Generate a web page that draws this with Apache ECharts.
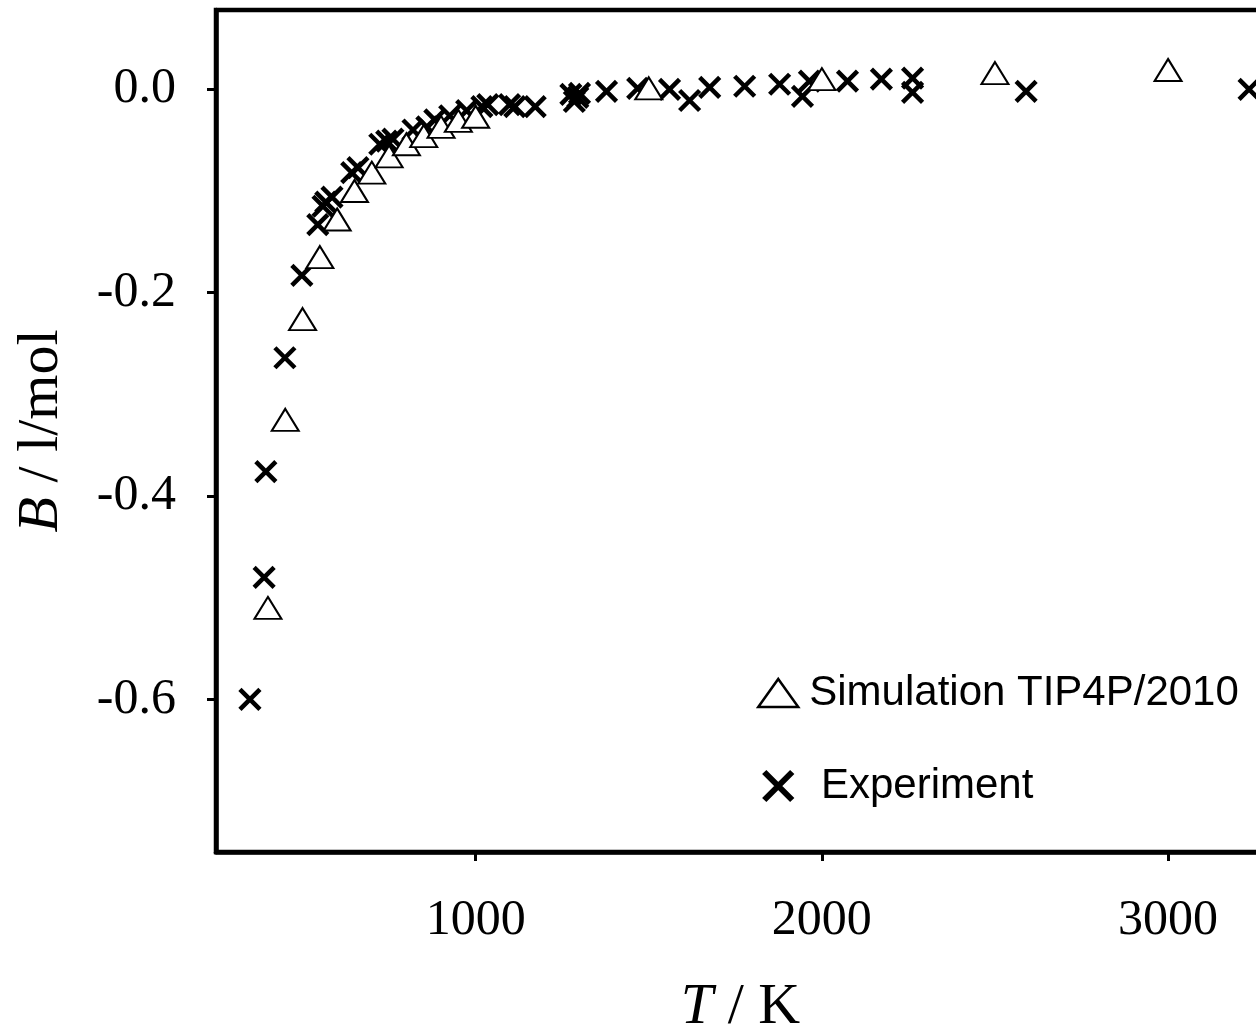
<!DOCTYPE html>
<html>
<head>
<meta charset="utf-8">
<title>Second virial coefficient of water</title>
<script src="https://cdn.jsdelivr.net/npm/echarts@6/dist/echarts.min.js"></script>
<style>
  html, body { margin: 0; padding: 0; background: #fff; }
  #chart { width: 1256px; height: 1029px; }
</style>
</head>
<body>
<div id="chart"></div>
<script>
// Second virial coefficient B (l/mol) versus temperature T (K)

// Simulation, TIP4P/2010 model
const simT = [400, 450, 500, 550, 600, 650, 700, 750, 800, 850, 900, 950, 1000, 1500, 2000, 2500, 3000];
const simB = [-0.510, -0.325, -0.226, -0.165, -0.128, -0.100, -0.082, -0.066, -0.054, -0.046, -0.037, -0.031, -0.027, 0.001, 0.010, 0.016, 0.019];

// Experimental data
const expT = [348, 389, 394, 449, 498, 544, 559, 567, 585, 642, 660, 723, 743, 761, 819, 859, 882, 925, 974,
  1018, 1035, 1098, 1113, 1172, 1275, 1285, 1295, 1300, 1378, 1468, 1560, 1618, 1676, 1777, 1878, 1944, 1964,
  2074, 2172, 2262, 2262, 2590, 3234];
const expB = [-0.600, -0.480, -0.376, -0.264, -0.183, -0.133, -0.115, -0.111, -0.106, -0.082, -0.077, -0.054, -0.051, -0.049, -0.040, -0.037, -0.030, -0.026, -0.021,
  -0.017, -0.015, -0.015, -0.017, -0.017, -0.005, -0.012, -0.008, -0.004, -0.002, 0.001, 0.000, -0.011, 0.002, 0.003, 0.005, -0.007, 0.008,
  0.008, 0.010, 0.011, -0.003, -0.002, 0.000];

// Axis ticks
const xTicks = [1000, 2000, 3000];
const yTicks = [-0.6, -0.4, -0.2, 0.0];

const serif = '"Liberation Serif", "Times New Roman", serif';
const sans = '"Liberation Sans", Arial, sans-serif';

const pairs = (xs, ys) => xs.map((x, i) => [x, ys[i]]);

const chart = echarts.init(document.getElementById('chart'), null, { renderer: 'canvas' });

chart.setOption({
  backgroundColor: '#ffffff',
  animation: false,
  grid: {
    left: 216,
    top: 10,
    width: 1049,
    height: 842,
    outerBoundsMode: 'none',
    show: true,
    borderColor: '#000',
    borderWidth: 4.5,
    backgroundColor: 'transparent'
  },
  xAxis: {
    type: 'value',
    min: 250,
    max: 3280,
    name: '{i|T} / K',
    nameLocation: 'middle',
    nameGap: 127,
    nameTextStyle: {
      fontFamily: serif, fontSize: 58, color: '#000',
      rich: { i: { fontFamily: serif, fontSize: 58, fontStyle: 'italic', color: '#000' } }
    },
    axisLine: { show: true, onZero: false, lineStyle: { color: '#000', width: 4.5 } },
    axisTick: { show: true, inside: false, length: 9, customValues: xTicks, lineStyle: { color: '#000', width: 3 } },
    axisLabel: {
      customValues: xTicks,
      margin: 44,
      fontFamily: serif, fontSize: 50, color: '#000',
      formatter: v => String(v)
    },
    splitLine: { show: false }
  },
  yAxis: {
    type: 'value',
    min: -0.75,
    max: 0.078,
    name: '{i|B} / l/mol',
    nameLocation: 'middle',
    nameGap: 145,
    nameRotate: 90,
    nameTextStyle: {
      fontFamily: serif, fontSize: 58, color: '#000',
      rich: { i: { fontFamily: serif, fontSize: 58, fontStyle: 'italic', color: '#000' } }
    },
    axisLine: { show: true, onZero: false, lineStyle: { color: '#000', width: 4.5 } },
    axisTick: { show: true, inside: false, length: 9, customValues: yTicks, lineStyle: { color: '#000', width: 3 } },
    axisLabel: {
      customValues: yTicks,
      margin: 40,
      fontFamily: serif, fontSize: 50, color: '#000',
      formatter: v => v.toFixed(1)
    },
    splitLine: { show: false }
  },
  legend: {
    orient: 'vertical',
    left: 752,
    top: 667,
    itemWidth: 40,
    itemHeight: 28,
    itemGap: 51,
    textStyle: {
      fontFamily: sans, fontSize: 42, color: '#000',
      rich: { t: { fontFamily: sans, fontSize: 42, color: '#000', padding: [0, 0, 0, 6] } }
    },
    formatter: name => (name === 'Experiment' ? '{t| ' + name + '}' : '{t|' + name + '}'),
    data: [
      { name: 'Simulation TIP4P/2010', itemStyle: { borderWidth: 2.5, opacity: 1 } },
      { name: 'Experiment', itemStyle: { borderWidth: 6, opacity: 1 } }
    ]
  },
  series: [
    {
      name: 'Experiment',
      type: 'scatter',
      data: pairs(expT, expB),
      symbol: 'path://M0 0L10 10M10 0L0 10',
      symbolKeepAspect: true,
      symbolSize: 20,
      itemStyle: { color: '#000', borderColor: '#000', borderWidth: 4.5, opacity: 1 },
      z: 2
    },
    {
      name: 'Simulation TIP4P/2010',
      type: 'scatter',
      data: pairs(simT, simB),
      symbol: 'triangle',
      symbolSize: [27, 22],
      itemStyle: { color: '#fff', borderColor: '#000', borderWidth: 2, opacity: 1 },
      z: 3
    }
  ]
});
</script>
</body>
</html>
